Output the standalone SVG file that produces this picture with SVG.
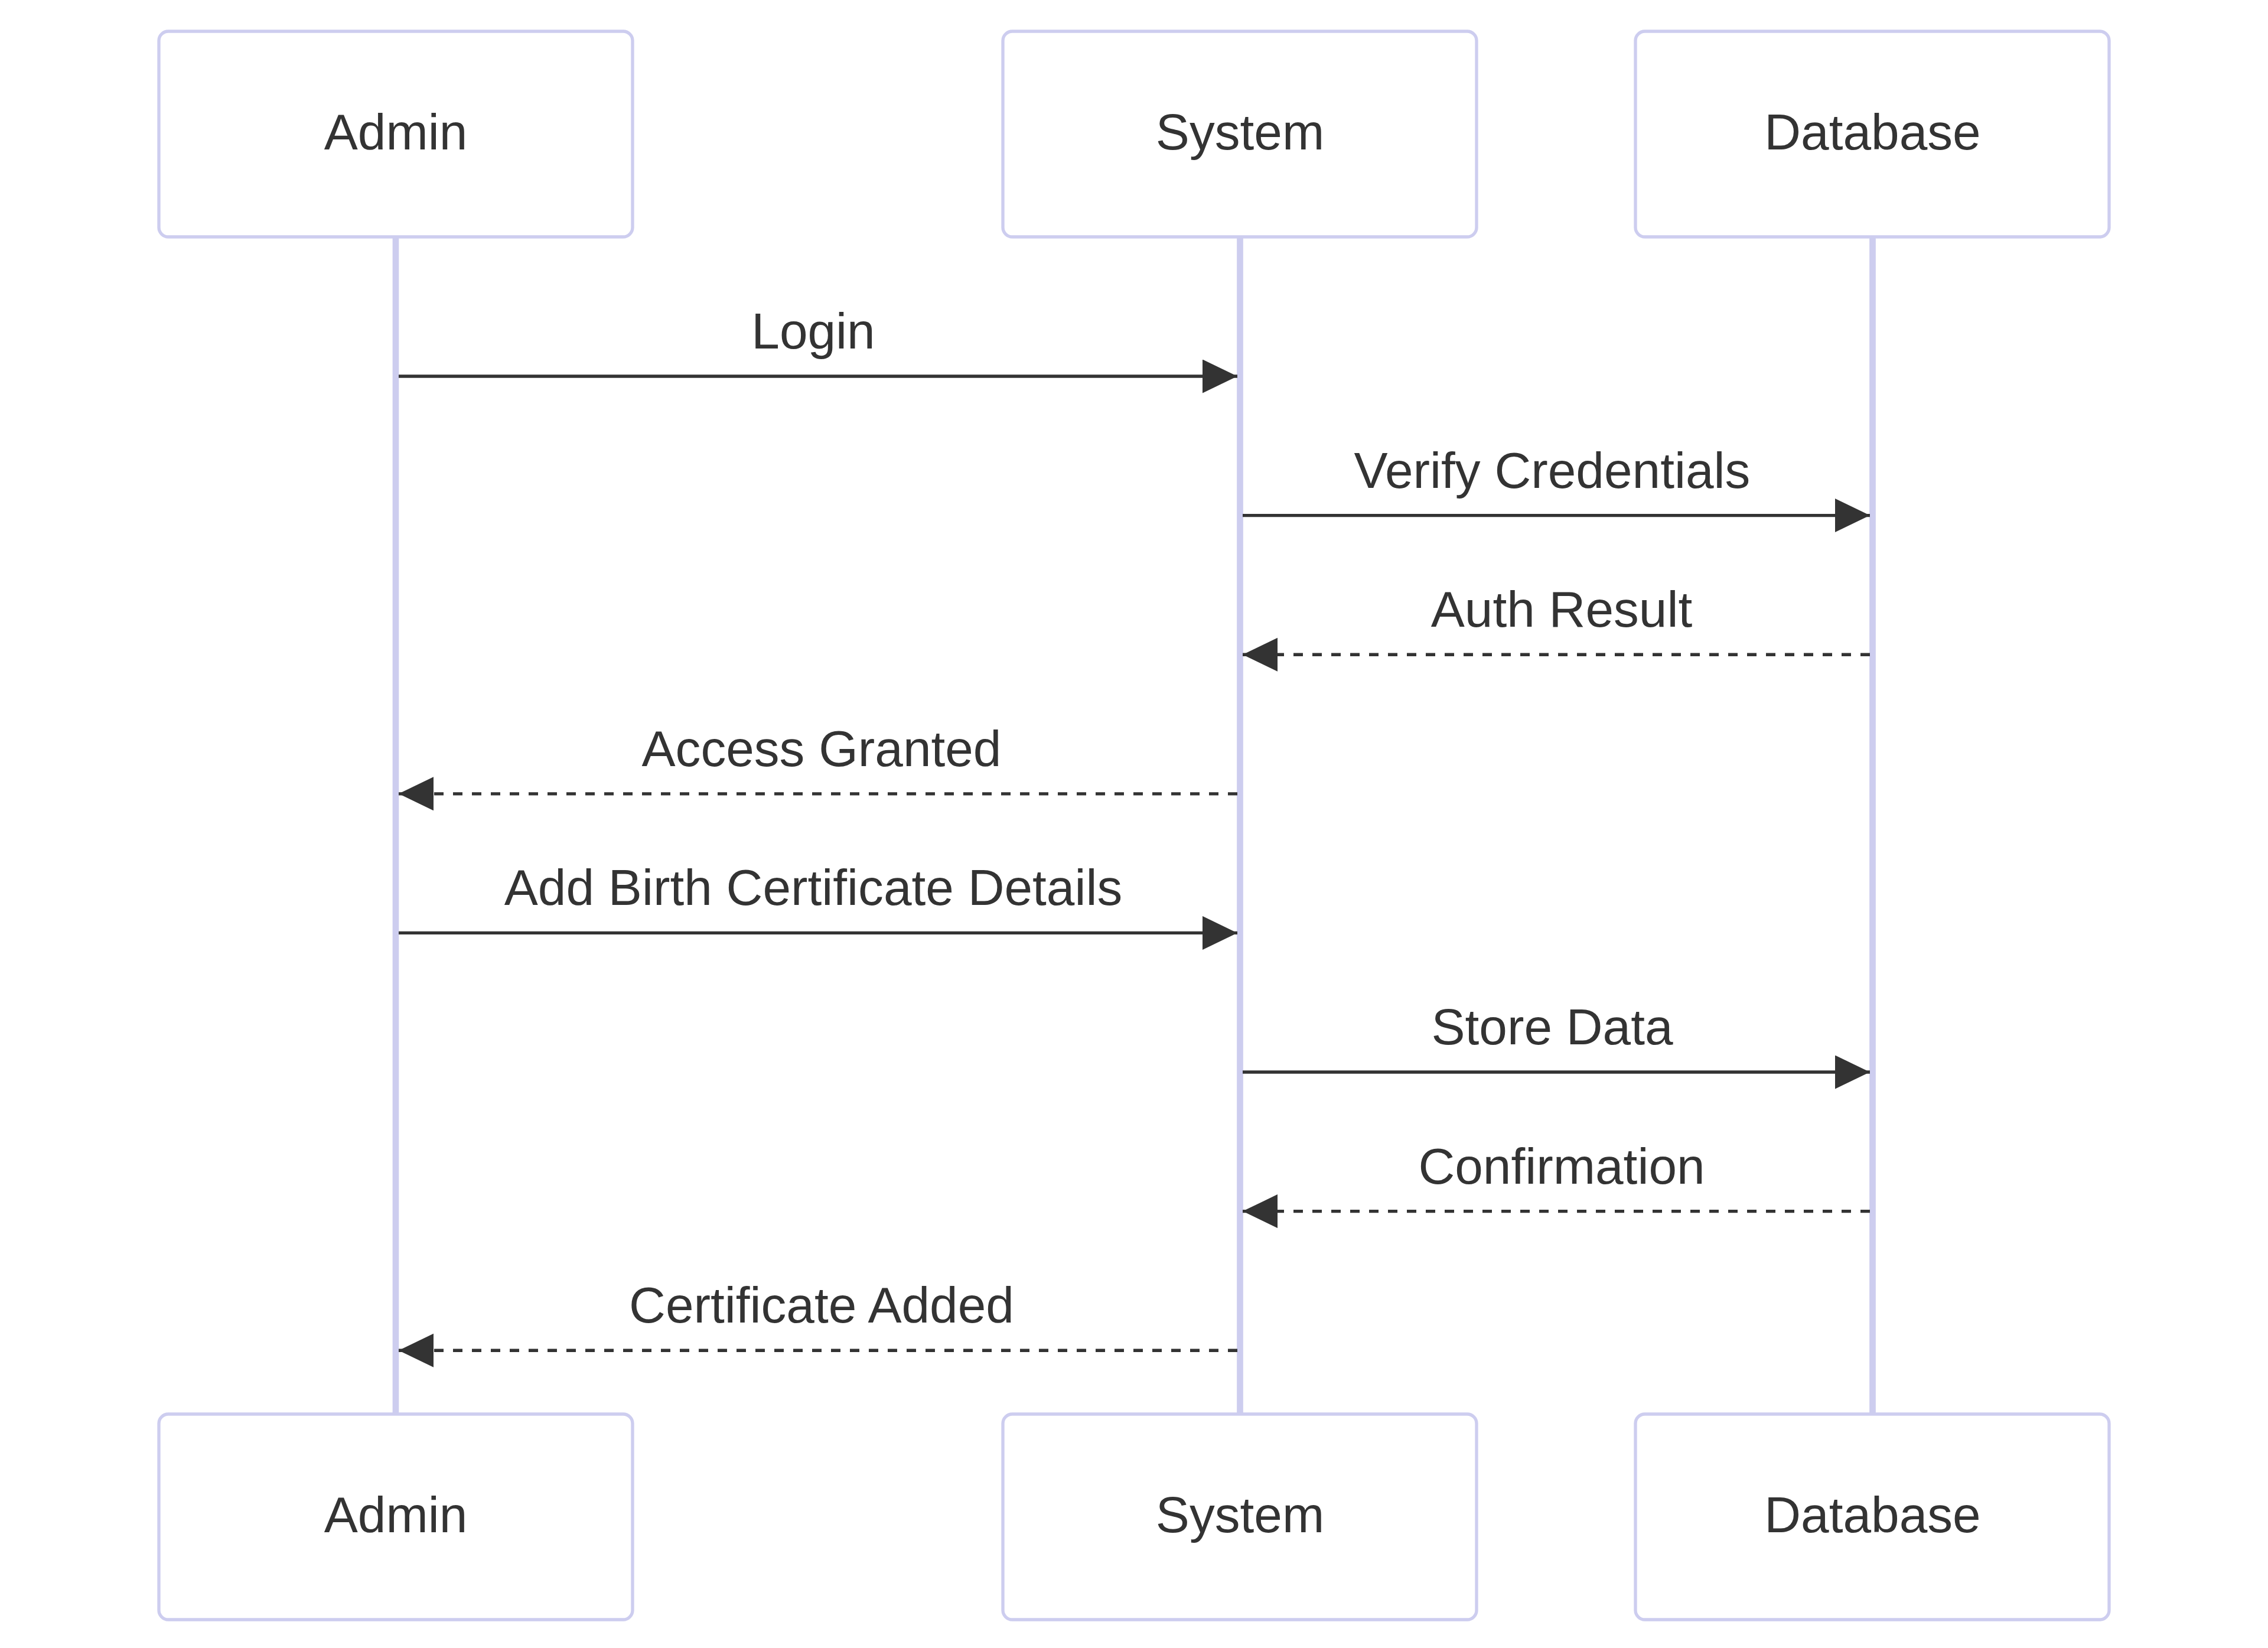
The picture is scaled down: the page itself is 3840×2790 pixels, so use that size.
<svg xmlns="http://www.w3.org/2000/svg" width="3840" height="2790" viewBox="0 0 3840 2790">
  <style>
    .actor { fill: #ffffff; stroke: #cdcdef; stroke-width: 5.35; }
    .actor-text { font-family: "Liberation Sans", Arial, sans-serif; font-size: 85.6px; fill: #333333; text-anchor: middle; }
    .lifeline { stroke: #cdcdef; stroke-width: 10.7; }
    .msg { stroke: #333333; stroke-width: 5.35; fill: none; }
    .dashed { stroke-dasharray: 16 16; }
    .msg-text { font-family: "Liberation Sans", Arial, sans-serif; font-size: 85.6px; fill: #333333; text-anchor: middle; }
  </style>
  <defs>
    <marker id="arrow" markerUnits="userSpaceOnUse" markerWidth="60" markerHeight="58" refX="59" refY="28.5" orient="auto">
      <path d="M0,0 L59,28.5 L0,57 z" fill="#333333"/>
    </marker>
  </defs>
  <rect width="3840" height="2790" fill="#ffffff"/>

  <g id="lifelines">
    <line class="lifeline" x1="670" y1="401" x2="670" y2="2394"/>
    <line class="lifeline" x1="2099.5" y1="401" x2="2099.5" y2="2394"/>
    <line class="lifeline" x1="3170.5" y1="401" x2="3170.5" y2="2394"/>
  </g>

  <g id="actor-admin-top">
    <rect class="actor" x="269" y="53" width="802" height="348" rx="16" ry="16"/>
    <text class="actor-text" x="670" y="253">Admin</text>
  </g>
  <g id="actor-system-top">
    <rect class="actor" x="1698" y="53" width="802" height="348" rx="16" ry="16"/>
    <text class="actor-text" x="2099.5" y="253">System</text>
  </g>
  <g id="actor-database-top">
    <rect class="actor" x="2769" y="53" width="802" height="348" rx="16" ry="16"/>
    <text class="actor-text" x="3170.5" y="253">Database</text>
  </g>

  <g id="actor-admin-bottom">
    <rect class="actor" x="269" y="2394" width="802" height="348" rx="16" ry="16"/>
    <text class="actor-text" x="670" y="2594">Admin</text>
  </g>
  <g id="actor-system-bottom">
    <rect class="actor" x="1698" y="2394" width="802" height="348" rx="16" ry="16"/>
    <text class="actor-text" x="2099.5" y="2594">System</text>
  </g>
  <g id="actor-database-bottom">
    <rect class="actor" x="2769" y="2394" width="802" height="348" rx="16" ry="16"/>
    <text class="actor-text" x="3170.5" y="2594">Database</text>
  </g>

  <g id="connectors">
    <line class="msg" x1="675" y1="637" x2="2095" y2="637" marker-end="url(#arrow)"/>
    <text class="msg-text" x="1377" y="590">Login</text>

    <line class="msg" x1="2104" y1="872.6" x2="3166" y2="872.6" marker-end="url(#arrow)"/>
    <text class="msg-text" x="2628" y="825.6">Verify Credentials</text>

    <line class="msg dashed" x1="3166" y1="1108.2" x2="2104" y2="1108.2" marker-end="url(#arrow)"/>
    <text class="msg-text" x="2644" y="1061.2">Auth Result</text>

    <line class="msg dashed" x1="2095" y1="1343.8" x2="675" y2="1343.8" marker-end="url(#arrow)"/>
    <text class="msg-text" x="1391" y="1296.8">Access Granted</text>

    <line class="msg" x1="675" y1="1579.4" x2="2095" y2="1579.4" marker-end="url(#arrow)"/>
    <text class="msg-text" x="1377" y="1532.4">Add Birth Certificate Details</text>

    <line class="msg" x1="2104" y1="1815" x2="3166" y2="1815" marker-end="url(#arrow)"/>
    <text class="msg-text" x="2628" y="1768">Store Data</text>

    <line class="msg dashed" x1="3166" y1="2050.6" x2="2104" y2="2050.6" marker-end="url(#arrow)"/>
    <text class="msg-text" x="2644" y="2003.6">Confirmation</text>

    <line class="msg dashed" x1="2095" y1="2286.2" x2="675" y2="2286.2" marker-end="url(#arrow)"/>
    <text class="msg-text" x="1391" y="2239.2">Certificate Added</text>
  </g>
</svg>
